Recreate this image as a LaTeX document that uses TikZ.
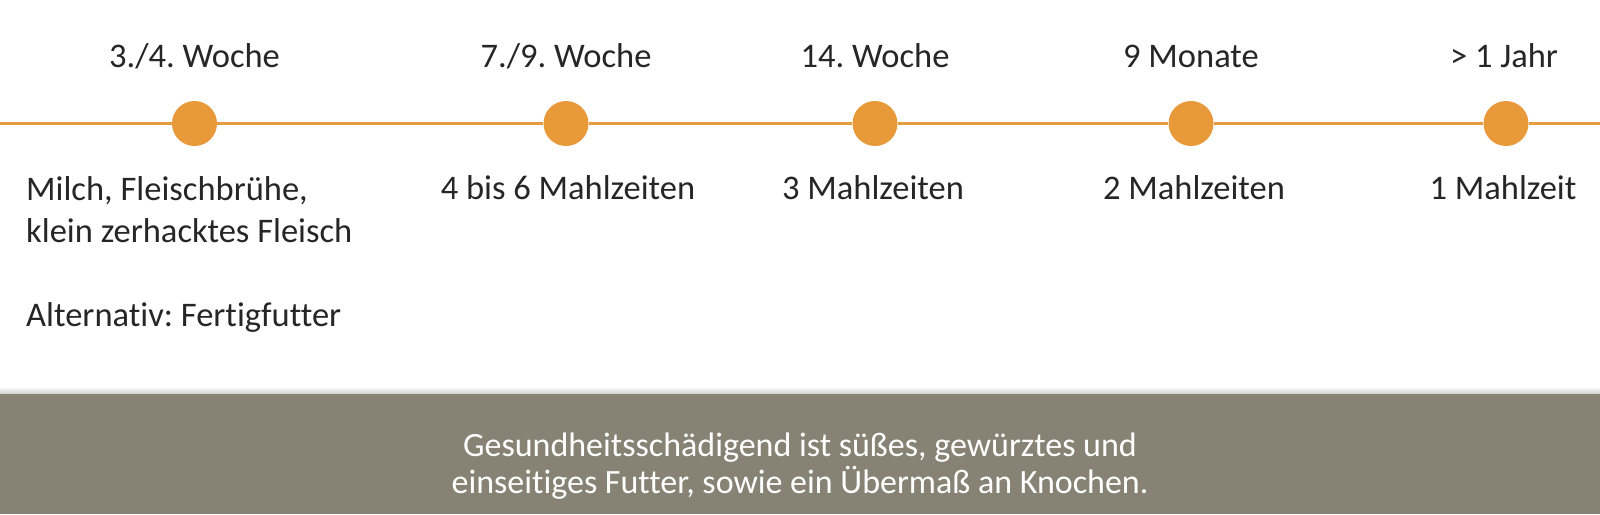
\documentclass[tikz,border=0pt]{standalone}
\usepackage{fontspec}
\setmainfont{Carlito}[Ligatures={NoCommon}]
\frenchspacing
\definecolor{orangeC}{HTML}{E8993A}
\definecolor{lineC}{HTML}{E79C40}
\definecolor{barC}{HTML}{868274}
\definecolor{txtC}{HTML}{262626}
\begin{document}
\frenchspacing
\begin{tikzpicture}[x=1pt,y=-1pt,
  lab/.style={font=\fontsize{34.5}{42}\selectfont, text=txtC, inner sep=0pt, anchor=base},
  barlab/.style={font=\fontsize{34}{40}\selectfont, text=white, inner sep=0pt, anchor=base},
  dot/.style={circle, fill=orangeC, minimum size=45pt, inner sep=0pt},
  tl/.style={draw=lineC, line width=2.5pt}]
\useasboundingbox (0,0) rectangle (1600,514);
\fill[white] (0,0) rectangle (1600,514);
\shade[top color=white, bottom color=black!20] (0,387) rectangle (1600,394);
\fill[barC] (0,394) rectangle (1600,514);
% timeline
\coordinate (L) at (0,123.5);
\coordinate (R) at (1600,123.5);
\node[dot] (c1) at (194.5,123.5) {};
\node[dot] (c2) at (566,123.5) {};
\node[dot] (c3) at (875,123.5) {};
\node[dot] (c4) at (1191,123.5) {};
\node[dot] (c5) at (1506,123.5) {};
\draw[tl] (L) -- (c1) -- (c2) -- (c3) -- (c4) -- (c5) -- (R);
% top labels
\node[lab] (w1) at (194.5,67) {3./4. Woche};
\node[lab] (w2) at (566,67) {7./9. Woche};
\node[lab] (w3) at (875,67) {14. Woche};
\node[lab] (w4) at (1191,67) {9 Monate};
\node[lab] (w5) at (1504,67) {> 1 Jahr};
% bottom labels
\node[lab, anchor=base west] (m1a) at (26,200) {Milch, Fleischbrühe,};
\node[lab, anchor=base west] (m1b) at (26,242) {klein zerhacktes Fleisch};
\node[lab, anchor=base west] (alt) at (26,326) {Alternativ: Fertigfutter};
\node[lab] (m2) at (568,199) {4 bis 6 Mahlzeiten};
\node[lab] (m3) at (873,199) {3 Mahlzeiten};
\node[lab] (m4) at (1194,199) {2 Mahlzeiten};
\node[lab] (m5) at (1503,199) {1 Mahlzeit};
% bar text
\node[barlab] (n1) at (800,456) {Gesundheitsschädigend ist süßes, gewürztes und};
\node[barlab] (n2) at (800,493) {einseitiges Futter, sowie ein Übermaß an Knochen.};
\end{tikzpicture}
\end{document}
